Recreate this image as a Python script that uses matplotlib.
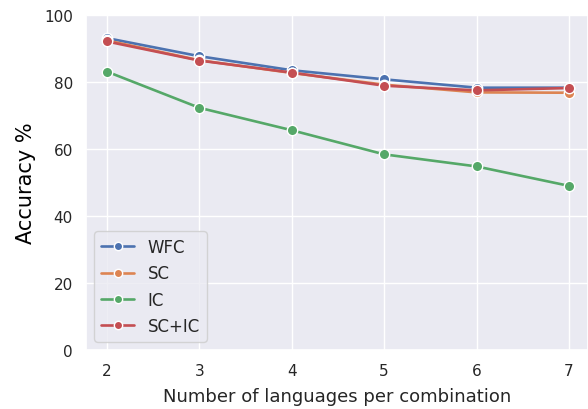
import matplotlib
matplotlib.use("Agg")
import matplotlib.pyplot as plt
import seaborn as sns

n_langs = [2, 3, 4, 5, 6, 7]
wfc = [93.1, 87.7, 83.5, 80.8, 78.3, 78.3]
sc = [92.4, 86.5, 82.7, 79.2, 76.9, 76.8]
ic = [83.1, 72.3, 65.6, 58.4, 54.8, 49.0]
sc_ic = [92.1, 86.4, 82.8, 78.9, 77.5, 78.2]

series = [("WFC", wfc), ("SC", sc), ("IC", ic), ("SC+IC", sc_ic)]

sns.set_theme(style="darkgrid")
fig = plt.figure(figsize=(5.88, 4.10), dpi=100)
ax = fig.add_axes([86 / 588, 59 / 410, 502 / 588, 335 / 410])

colors = sns.color_palette("deep")
for i, (name, vals) in enumerate(series):
    ax.plot(n_langs, vals, marker="o", color=colors[i], label=name,
            linewidth=1.9, markersize=7.5, markeredgecolor="white", markeredgewidth=1)

ax.set_ylim(0, 100)
ax.set_xlim(1.773, 7.206)
ax.set_xticks(n_langs)
ax.tick_params(labelsize=11)
ax.set_xlabel("Number of languages per combination", fontsize=13, labelpad=6)
ax.set_ylabel("Accuracy %", fontsize=15, color="black", labelpad=6)
ax.legend(loc="lower left", fontsize=12, markerscale=0.8)

fig.savefig("out.png", dpi=100)
